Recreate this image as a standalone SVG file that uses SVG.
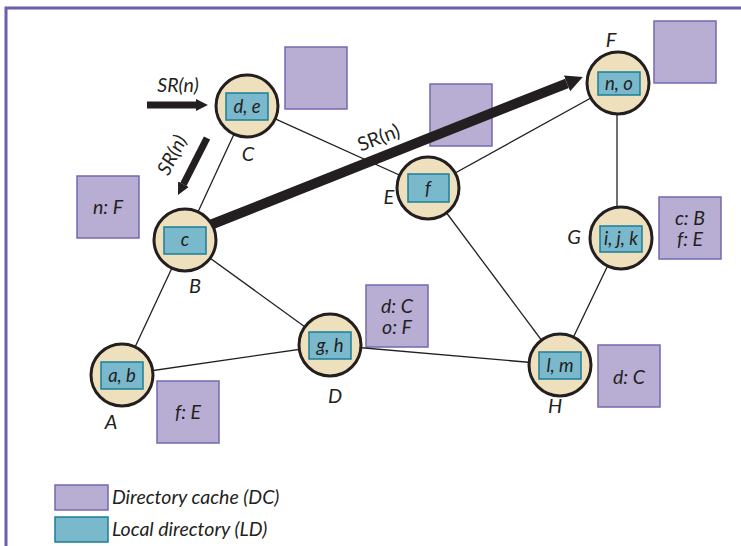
<svg xmlns="http://www.w3.org/2000/svg" width="741" height="546" viewBox="0 0 741 546">
  <style>
    .edge { stroke: #231F20; stroke-width: 1.3; fill: none; }
    .req { stroke: #231F20; fill: none; }
    .node { fill: #EFE0BD; stroke: #231F20; stroke-width: 3; }
    .ld { fill: #7AB8CC; stroke: #1C7E98; stroke-width: 1.5; }
    .dc { fill: #B8ADD2; stroke: #7468B0; stroke-width: 1.5; }
    text { font-family: Lato, "Open Sans", sans-serif; fill: #231F20; }
    .it { font-style: italic; }
    .in { font-size: 18.5px; text-anchor: middle; font-style: italic; }
    .lbl { font-size: 20px; text-anchor: middle; font-style: italic; }
    .dct { font-size: 19.5px; text-anchor: middle; font-style: italic; }
    .leg { font-size: 19.5px; font-style: italic; }
  </style>
  <defs>
    <marker id="head" viewBox="0 0 10 10" refX="0" refY="5" markerWidth="1.7" markerHeight="2" orient="auto" markerUnits="strokeWidth">
      <path d="M0,0 L10,5 L0,10 z" fill="#231F20"/>
    </marker>
  </defs>

  <!-- frame -->
  <path d="M6,546 V8 H741" fill="none" stroke="#6B5FAE" stroke-width="3"/>

  <!-- directory caches -->
  <g id="dc-C"><rect class="dc" x="285" y="47" width="62" height="62"/></g>
  <g id="dc-E"><rect class="dc" x="430" y="84" width="62" height="62"/></g>
  <g id="dc-F"><rect class="dc" x="654" y="21" width="62" height="62"/></g>
  <g id="dc-B"><rect class="dc" x="77" y="176" width="62" height="62"/><text class="dct" x="108" y="214">n: F</text></g>
  <g id="dc-G"><rect class="dc" x="659" y="197" width="62" height="62"/><text class="dct"><tspan x="690" y="225">c: B</tspan><tspan x="690" y="246">f: E</tspan></text></g>
  <g id="dc-D"><rect class="dc" x="366" y="285" width="62" height="62"/><text class="dct"><tspan x="397" y="313">d: C</tspan><tspan x="397" y="334">o: F</tspan></text></g>
  <g id="dc-A"><rect class="dc" x="157" y="381" width="62" height="62"/><text class="dct" x="188" y="419">f: E</text></g>
  <g id="dc-H"><rect class="dc" x="598" y="345" width="62" height="62"/><text class="dct" x="629" y="384">d: C</text></g>

  <!-- connectors -->
  <g id="connectors">
    <line class="edge" x1="247" y1="106" x2="185" y2="240"/>
    <line class="edge" x1="247" y1="106" x2="428" y2="188"/>
    <line class="edge" x1="428" y1="188" x2="618" y2="83"/>
    <line class="edge" x1="428" y1="188" x2="560" y2="365"/>
    <line class="edge" x1="617" y1="83" x2="617" y2="238"/>
    <line class="edge" x1="621" y1="238" x2="560" y2="365"/>
    <line class="edge" x1="185" y1="240" x2="122" y2="375"/>
    <line class="edge" x1="185" y1="240" x2="330" y2="345"/>
    <line class="edge" x1="122" y1="375" x2="330" y2="345"/>
    <line class="edge" x1="330" y1="345" x2="560" y2="365"/>
    <!-- search request path -->
    <line class="req" stroke-width="7" x1="147" y1="105" x2="196" y2="105" marker-end="url(#head)"/>
    <line class="req" stroke-width="7" x1="207" y1="138" x2="183.4" y2="184.3" marker-end="url(#head)"/>
    <line class="req" stroke-width="10" x1="200" y1="229" x2="567" y2="83.3" marker-end="url(#head)"/>
    <text class="it" font-size="19.5" text-anchor="middle" x="178" y="92">SR(n)</text>
    <text class="it" font-size="19.5" text-anchor="middle" transform="translate(178,158) rotate(-63)">SR(n)</text>
    <text font-size="19.5" text-anchor="middle" transform="translate(381,144) rotate(-21)">SR(n)</text>
  </g>

  <!-- nodes -->
  <g id="node-A"><circle class="node" cx="122" cy="375" r="31"/><rect class="ld" x="101" y="362" width="42" height="27"/><text class="in" x="122" y="382">a, b</text><text class="lbl" x="111" y="429">A</text></g>
  <g id="node-B"><circle class="node" cx="185" cy="240" r="31"/><rect class="ld" x="164" y="227" width="42" height="27"/><text class="in" x="185" y="246">c</text><text class="lbl" x="195" y="293">B</text></g>
  <g id="node-C"><circle class="node" cx="247" cy="106" r="31"/><rect class="ld" x="226" y="93" width="42" height="27"/><text class="in" x="247" y="113">d, e</text><text class="lbl" x="248" y="161">C</text></g>
  <g id="node-D"><circle class="node" cx="330" cy="345" r="31"/><rect class="ld" x="309" y="332" width="42" height="27"/><text class="in" x="330" y="352">g, h</text><text class="lbl" x="335" y="403">D</text></g>
  <g id="node-E"><circle class="node" cx="428" cy="188" r="31"/><rect class="ld" x="408" y="174" width="41" height="28"/><text class="in" x="428" y="195">f</text><text class="lbl" x="389" y="204">E</text></g>
  <g id="node-F"><circle class="node" cx="618" cy="83" r="31"/><rect class="ld" x="598" y="72" width="42" height="23"/><text class="in" x="619" y="90">n, o</text><text class="lbl" x="611" y="47">F</text></g>
  <g id="node-G"><circle class="node" cx="621" cy="238" r="31"/><rect class="ld" x="600" y="226" width="42" height="26"/><text class="in" x="621" y="245">i, j, k</text><text class="lbl" x="574" y="244">G</text></g>
  <g id="node-H"><circle class="node" cx="560" cy="365" r="31"/><rect class="ld" x="539" y="352" width="42" height="27"/><text class="in" x="560" y="372">l, m</text><text class="lbl" x="555" y="413">H</text></g>

  <!-- legend -->
  <g id="legend">
    <rect class="dc" x="55" y="485" width="53" height="25"/>
    <text class="leg" x="112" y="504">Directory cache (DC)</text>
    <rect class="ld" x="55" y="517" width="53" height="25"/>
    <text class="leg" x="112" y="536">Local directory (LD)</text>
  </g>
</svg>
